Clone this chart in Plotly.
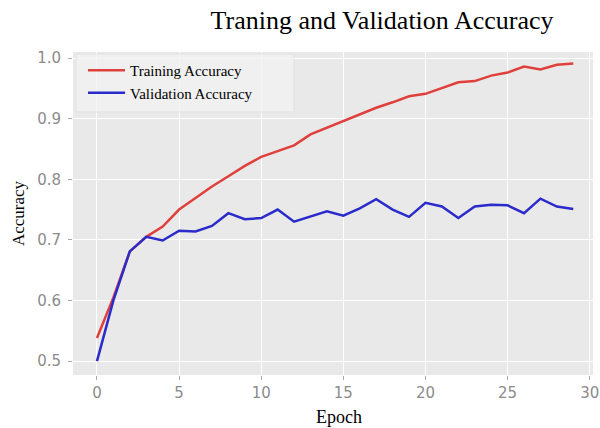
import plotly.graph_objects as go

epochs = list(range(30))
train_acc = [0.538, 0.605, 0.681, 0.705, 0.722, 0.750, 0.769, 0.788, 0.805, 0.822,
             0.837, 0.846, 0.856, 0.874, 0.885, 0.897, 0.908, 0.918, 0.927, 0.937,
             0.941, 0.951, 0.960, 0.962, 0.971, 0.976, 0.986, 0.981, 0.989, 0.991]
val_acc = [0.500, 0.600, 0.681, 0.705, 0.699, 0.715, 0.714, 0.723, 0.744, 0.734,
           0.736, 0.750, 0.730, 0.739, 0.747, 0.740, 0.752, 0.767, 0.750, 0.738,
           0.761, 0.755, 0.736, 0.755, 0.758, 0.757, 0.744, 0.768, 0.755, 0.751]
x_ticks = [0, 5, 10, 15, 20, 25, 30]
y_ticks = [0.5, 0.6, 0.7, 0.8, 0.9, 1.0]

serif = "Liberation Serif, Times New Roman, serif"
tickfont = dict(family="DejaVu Sans, sans-serif", size=15, color="#8c8c8c")

W, H = 600, 428
ML, MR, MT, MB = 73, 7, 52, 53
pw = W - ML - MR
ph = H - MT - MB


def px_to_paper(ax, ay):
    """window pixel -> paper coords"""
    return (ax - ML) / pw, (H - MB - ay) / ph


fig = go.Figure()
fig.add_trace(go.Scatter(x=epochs, y=train_acc, mode="lines", name="Training Accuracy",
                         line=dict(color="#e0403c", width=2.5)))
fig.add_trace(go.Scatter(x=epochs, y=val_acc, mode="lines", name="Validation Accuracy",
                         line=dict(color="#2b2bcc", width=2.5)))

ex, ey = px_to_paper(339, 417)
axx, axy = px_to_paper(18, 213)
lx, ly = px_to_paper(83, 54)
bx0, by0 = px_to_paper(76, 112)
bx1, by1 = px_to_paper(294, 54)

fig.update_layout(
    width=W, height=H,
    margin=dict(l=ML, r=MR, t=MT, b=MB, autoexpand=False),
    paper_bgcolor="white",
    plot_bgcolor="#e9e9e9",
    title=dict(text="Traning and Validation Accuracy", x=382 / W, xanchor="center",
               y=1 - 20 / H, yanchor="middle",
               font=dict(family=serif, size=26, color="black")),
    xaxis=dict(range=[-1.46, 30.2], tickvals=x_ticks, showgrid=True, gridcolor="white",
               gridwidth=1.2, zeroline=False, ticks="outside", ticklen=4, tickcolor="#aaa",
               tickfont=tickfont, automargin=False),
    yaxis=dict(range=[0.477, 1.01], tickvals=y_ticks, tickformat=".1f", showgrid=True,
               gridcolor="white", gridwidth=1.2, zeroline=False, ticks="outside", ticklen=4,
               tickcolor="#aaa", tickfont=tickfont, automargin=False, ticklabelstandoff=4),
    annotations=[
        dict(text="Epoch", x=ex, y=ey, xref="paper", yref="paper", showarrow=False,
             xanchor="center", yanchor="middle",
             font=dict(family=serif, size=18, color="black")),
        dict(text="Accuracy", x=axx, y=axy, xref="paper", yref="paper", showarrow=False,
             xanchor="center", yanchor="middle", textangle=-90,
             font=dict(family=serif, size=17, color="black")),
    ],
    shapes=[dict(type="rect", xref="paper", yref="paper", x0=bx0, x1=bx1, y0=by0, y1=by1,
                 fillcolor="rgba(242,242,242,0.75)", line=dict(color="rgba(225,225,225,1)", width=1),
                 layer="above")],
    legend=dict(x=lx, y=ly, xanchor="left", yanchor="top",
                bgcolor="rgba(0,0,0,0)", borderwidth=0, itemwidth=37,
                font=dict(family=serif, size=15, color="black")),
    showlegend=True,
)

fig.write_html(
    "out.html",
    config={"displayModeBar": False},
    post_script="document.body.style.margin='0';document.body.style.overflow='hidden';"
                "document.documentElement.style.overflow='hidden';",
)
